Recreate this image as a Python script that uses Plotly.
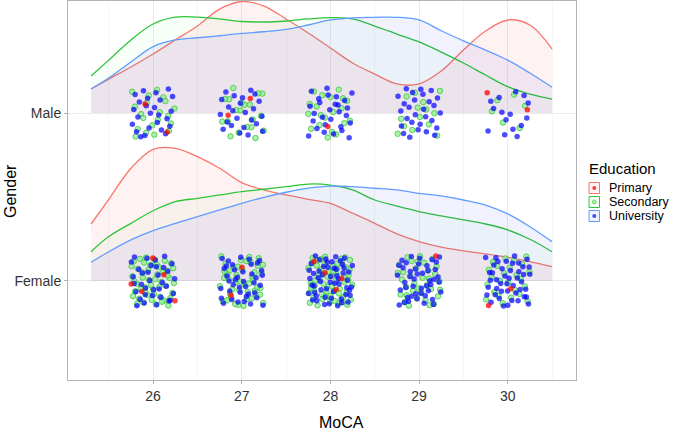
import plotly.graph_objects as go

# ---------------- data ----------------
genders = ["Female", "Male"]
educations = ["Primary", "Secondary", "University"]
scores = [26, 27, 28, 29, 30]

# number of subjects per MoCA score
male_primary = [2, 2, 1, 0, 2]
male_secondary = [20, 20, 20, 14, 6]
male_university = [25, 24, 28, 28, 15]
female_primary = [5, 2, 4, 1, 2]
female_secondary = [50, 45, 60, 35, 25]
female_university = [35, 40, 55, 45, 45]

# ridge density heights (in ridge units) on a MoCA grid
dens_x = [25.3, 25.5, 25.75, 26.0, 26.25, 26.5, 26.75, 27.0, 27.25, 27.5, 27.75,
          28.0, 28.25, 28.5, 28.75, 29.0, 29.25, 29.5, 29.75, 30.0, 30.25, 30.5]
male_primary_dens = [0.143, 0.202, 0.274, 0.351, 0.435, 0.518, 0.619, 0.664, 0.637, 0.560, 0.476,
                     0.387, 0.298, 0.232, 0.173, 0.173, 0.250, 0.375, 0.488, 0.554, 0.524, 0.381]
male_secondary_dens = [0.220, 0.315, 0.435, 0.530, 0.571, 0.571, 0.560, 0.545, 0.542, 0.548, 0.560,
                       0.568, 0.560, 0.518, 0.470, 0.423, 0.363, 0.298, 0.226, 0.157, 0.113, 0.083]
male_university_dens = [0.143, 0.208, 0.304, 0.395, 0.435, 0.448, 0.460, 0.474, 0.484, 0.498, 0.524,
                        0.554, 0.567, 0.570, 0.570, 0.554, 0.490, 0.430, 0.375, 0.315, 0.238, 0.153]
female_primary_dens = [0.339, 0.486, 0.671, 0.784, 0.790, 0.740, 0.671, 0.585, 0.542, 0.512, 0.486,
                       0.462, 0.403, 0.343, 0.280, 0.234, 0.201, 0.179, 0.161, 0.141, 0.115, 0.085]
female_secondary_dens = [0.174, 0.264, 0.343, 0.418, 0.472, 0.492, 0.512, 0.532, 0.546, 0.561, 0.577,
                         0.571, 0.542, 0.482, 0.446, 0.413, 0.387, 0.363, 0.339, 0.304, 0.248, 0.174]
female_university_dens = [0.111, 0.174, 0.244, 0.299, 0.343, 0.383, 0.423, 0.462, 0.498, 0.528, 0.552,
                          0.565, 0.561, 0.552, 0.542, 0.522, 0.506, 0.482, 0.452, 0.399, 0.323, 0.234]

# ---------------- styling ----------------
line_col = {"Primary": "#F8766D", "Secondary": "#2FC53A", "University": "#619CFF"}
fill_col = {"Primary": "rgba(255,0,0,0.05)", "Secondary": "rgba(144,238,144,0.06)",
            "University": "rgba(0,0,255,0.05)"}
pt_fill = {"Primary": "rgba(255,0,0,0.75)", "Secondary": "rgba(144,238,144,0.75)",
           "University": "rgba(0,0,255,0.7)"}
pt_line = {"Primary": "rgba(255,0,0,0)", "Secondary": "rgba(60,200,60,0.8)",
           "University": "rgba(0,0,255,0)"}

W, H = 675, 431
ML, MR, MT, MB = 68, 99, 1, 51
PW, PH = W - ML - MR, H - MT - MB


def px2paper(x, y):
    return (x - ML) / PW, (H - MB - y) / PH


def halton(i, b):
    f, r = 1.0, 0.0
    while i > 0:
        f /= b
        r += f * (i % b)
        i //= b
    return r


fig = go.Figure()

dens = {
    "Male": {"Primary": male_primary_dens, "Secondary": male_secondary_dens,
             "University": male_university_dens},
    "Female": {"Primary": female_primary_dens, "Secondary": female_secondary_dens,
               "University": female_university_dens},
}
counts = {
    "Male": {"Primary": male_primary, "Secondary": male_secondary, "University": male_university},
    "Female": {"Primary": female_primary, "Secondary": female_secondary,
               "University": female_university},
}

# densities (back ridge first)
for g in ["Male", "Female"]:
    base = genders.index(g)
    for e in educations:
        fig.add_trace(go.Scatter(x=dens_x, y=[base] * len(dens_x), mode="lines",
                                 line=dict(width=0, color="rgba(0,0,0,0)"),
                                 hoverinfo="skip", showlegend=False))
        fig.add_trace(go.Scatter(x=dens_x, y=[base + v for v in dens[g][e]], mode="lines",
                                 line=dict(color=line_col[e], width=1.3, shape="spline", smoothing=1),
                                 fill="tonexty", fillcolor=fill_col[e],
                                 name=e, showlegend=False))

# jittered points (deterministic low-discrepancy jitter)
JW, JH = 0.25, 0.15
k = 1
for e in ["Secondary", "University", "Primary"]:
    xs, ys = [], []
    for g in genders:
        base = genders.index(g)
        for s, n in zip(scores, counts[g][e]):
            for _ in range(n):
                xs.append(s + (halton(k, 2) - 0.5) * 2 * JW)
                ys.append(base + (halton(k, 3) - 0.5) * 2 * JH)
                k += 1
    fig.add_trace(go.Scatter(x=xs, y=ys, mode="markers", name=e, showlegend=False,
                             marker=dict(size=5.5, color=pt_fill[e],
                                         line=dict(color=pt_line[e], width=1))))

shapes = []
annotations = []

# manual legend (ggplot style)
tx, ty = px2paper(588, 168)
annotations.append(dict(x=tx, y=ty, xref="paper", yref="paper", text="Education",
                        showarrow=False, xanchor="left", yanchor="middle", borderpad=0,
                        font=dict(size=15, color="#000000")))
key_cy = [188, 202, 216]
for e, cy in zip(educations, key_cy):
    x0, y0 = px2paper(589, cy + 5.5)
    x1, y1 = px2paper(599.5, cy - 5.5)
    shapes.append(dict(type="rect", xref="paper", yref="paper", x0=x0, y0=y0, x1=x1, y1=y1,
                       line=dict(color=line_col[e], width=1), fillcolor=fill_col[e]))
    c0x, c0y = px2paper(592.3, cy + 2)
    c1x, c1y = px2paper(596.3, cy - 2)
    shapes.append(dict(type="circle", xref="paper", yref="paper", x0=c0x, y0=c0y, x1=c1x, y1=c1y,
                       line=dict(color=pt_line[e], width=0.8), fillcolor=pt_fill[e]))
    lx, ly = px2paper(608, cy)
    annotations.append(dict(x=lx, y=ly, xref="paper", yref="paper", text=e, showarrow=False,
                            xanchor="left", yanchor="middle", borderpad=0,
                            font=dict(size=12.5, color="#000000")))

# axis titles
ax, ay = px2paper(341, 422)
annotations.append(dict(x=ax, y=ay, xref="paper", yref="paper", text="MoCA", showarrow=False,
                        xanchor="center", yanchor="middle", font=dict(size=16, color="#000000")))
gx, gy = px2paper(10, 191)
annotations.append(dict(x=gx, y=gy, xref="paper", yref="paper", text="Gender", showarrow=False,
                        textangle=-90, xanchor="center", yanchor="middle",
                        font=dict(size=16, color="#000000")))

fig.update_layout(
    width=W, height=H,
    margin=dict(l=ML, r=MR, t=MT, b=MB, pad=0),
    paper_bgcolor="white", plot_bgcolor="white",
    font=dict(family="Liberation Sans, Arial, sans-serif"),
    showlegend=False,
    shapes=shapes, annotations=annotations,
    xaxis=dict(range=[25.04, 30.77], tickmode="array", tickvals=scores,
               ticktext=[str(s) for s in scores],
               showgrid=True, gridcolor="#EBEBEB", gridwidth=1,
               minor=dict(tickvals=[25.5, 26.5, 27.5, 28.5, 29.5, 30.5], showgrid=True,
                          gridcolor="#F5F5F5", gridwidth=0.7),
               showline=True, mirror=True, linecolor="#B3B3B3", linewidth=1,
               ticks="outside", ticklen=3, tickcolor="#B3B3B3",
               tickfont=dict(size=14, color="#333333"), zeroline=False),
    yaxis=dict(range=[-0.59, 1.667], tickmode="array", tickvals=[0, 1], ticktext=genders,
               showgrid=True, gridcolor="#EBEBEB", gridwidth=1,
               showline=True, mirror=True, linecolor="#B3B3B3", linewidth=1,
               ticks="outside", ticklen=3, tickcolor="#B3B3B3",
               tickfont=dict(size=14, color="#333333"), zeroline=False),
)

fig.write_html("out.html", config={"displayModeBar": False},
               post_script="document.body.style.margin='0px';")
